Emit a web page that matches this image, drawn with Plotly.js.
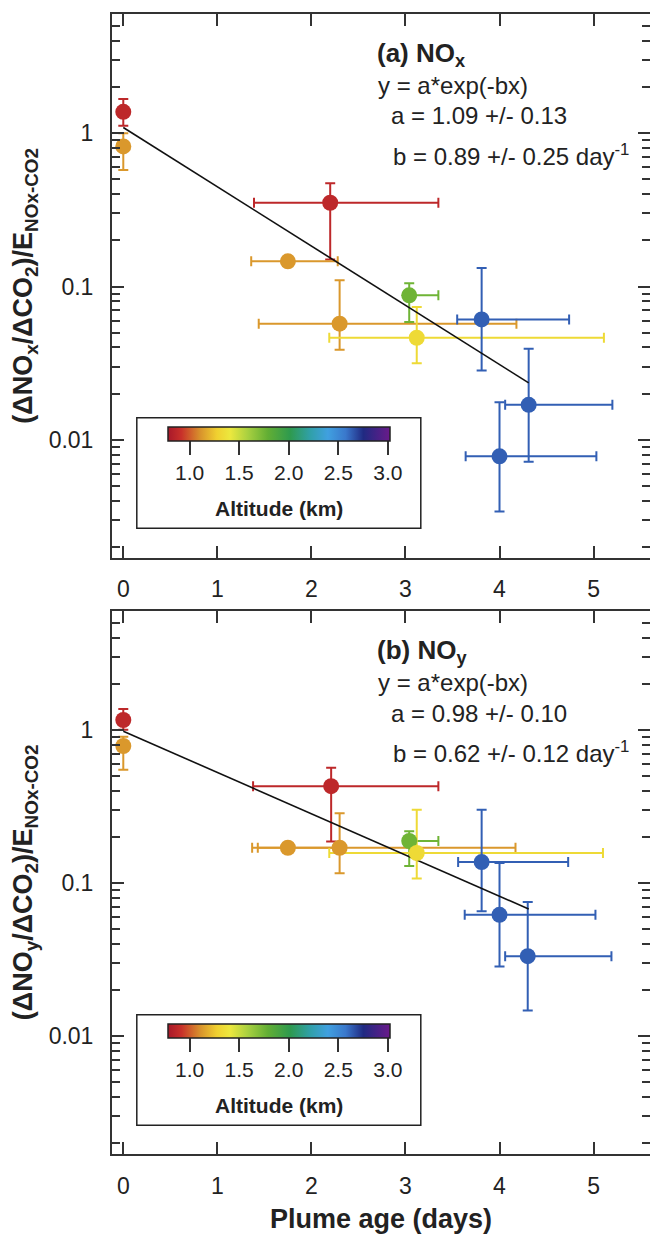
<!DOCTYPE html>
<html>
<head>
<meta charset="utf-8">
<script src="https://cdn.plot.ly/plotly-3.0.1.min.js"></script>
<style>html,body{margin:0;padding:0;background:#fff;}#chart{width:650px;height:1235px;}</style>
</head>
<body>
<div id="chart"></div>
<script>
// ---------- DATA ----------
// Panel (a) NOx
const ageA      = [0,    0,     2.20,  1.75,   2.30,   3.04,   3.12,   3.81,   4.31,   4.00];
const ageLoA    = [0,    0,     1.39,  1.36,   1.44,   2.99,   2.19,   3.55,   4.06,   3.64];
const ageHiA    = [0,    0,     3.35,  2.28,   4.18,   3.35,   5.11,   4.74,   5.20,   5.03];
const ratioA    = [1.38, 0.82,  0.352, 0.146,  0.0572, 0.0876, 0.0463, 0.061,  0.0169, 0.0078];
const ratioLoA  = [1.12, 0.575, 0.150, 0.146,  0.0387, 0.0586, 0.0316, 0.0283, 0.0072, 0.0034];
const ratioHiA  = [1.67, 1.00,  0.471, 0.146,  0.110,  0.105,  0.0734, 0.132,  0.0392, 0.0176];
const altA      = [0.87, 1.12,  0.87,  1.12,   1.12,   1.75,   1.33,   2.63,   2.63,   2.63];
const fitAgeA   = [0, 4.31];
const fitA      = [1.09, 0.0235];

// Panel (b) NOy
const ageB      = [0,     0,     2.21,  1.75,  2.30,   3.04,  3.12,   3.81,   4.30,   4.00];
const ageLoB    = [0,     0,     1.38,  1.37,  1.43,   2.99,  2.19,   3.56,   4.06,   3.63];
const ageHiB    = [0,     0,     3.35,  2.28,  4.17,   3.35,  5.10,   4.73,   5.19,   5.02];
const ratioB    = [1.16,  0.785, 0.429, 0.170, 0.170,  0.188, 0.157,  0.137,  0.0333, 0.062];
const ratioLoB  = [1.00,  0.549, 0.187, 0.170, 0.116,  0.129, 0.107,  0.0653, 0.0147, 0.0285];
const ratioHiB  = [1.37,  0.90,  0.566, 0.170, 0.285,  0.218, 0.301,  0.301,  0.0752, 0.135];
const altB      = [0.87,  1.12,  0.87,  1.12,  1.12,   1.75,  1.33,   2.63,   2.63,   2.63];
const fitAgeB   = [0, 4.31];
const fitB      = [0.98, 0.0677];

const altTicks  = [1.0, 1.5, 2.0, 2.5, 3.0];
const altTickText = ['1.0', '1.5', '2.0', '2.5', '3.0'];
const yTickVals = [0.01, 0.1, 1];
const yTickText = ['0.01', '0.1', '1'];
const xTickVals = [0, 1, 2, 3, 4, 5];

// ---------- STYLE ----------
const FONT = 'Liberation Sans, Arial, Helvetica, sans-serif';
const INK = '#222';
const CMIN = 0.78, CMAX = 3.02;
const cscale = [
  [0.00, '#a8182a'], [0.06, '#c8302a'], [0.145, '#d8922c'], [0.22, '#f0d030'],
  [0.28, '#ece83e'], [0.36, '#a8d040'], [0.45, '#62ae34'], [0.55, '#2e9a4e'],
  [0.64, '#30a0a8'], [0.72, '#40a0e0'], [0.80, '#3a78cc'], [0.88, '#202a82'],
  [1.00, '#6a1a8a']
];
function hex2rgb(h){return [parseInt(h.substr(1,2),16),parseInt(h.substr(3,2),16),parseInt(h.substr(5,2),16)];}
function colorOf(alt){
  let t = (alt - CMIN) / (CMAX - CMIN); t = Math.max(0, Math.min(1, t));
  for (let i = 1; i < cscale.length; i++) {
    if (t <= cscale[i][0]) {
      const a = cscale[i-1], b = cscale[i];
      const f = (t - a[0]) / (b[0] - a[0]);
      const ca = hex2rgb(a[1]), cb = hex2rgb(b[1]);
      return 'rgb(' + ca.map((v,k)=>Math.round(v + (cb[k]-v)*f)).join(',') + ')';
    }
  }
  return cscale[cscale.length-1][1];
}

// pixel -> paper helpers (layout only)
const ML = 112, MR = 0, MT = 14, MB = 81, W = 650, H = 1235;
const PW = W - ML - MR, PH = H - MT - MB;
const px = x => (x - ML) / PW;
const py = y => (H - MB - y) / PH;
const OFF = 597; // vertical offset between panels

function minorVals(){
  const v = [];
  [0.001, 0.01, 0.1, 1].forEach(d => { for (let k = 2; k <= 9; k++) v.push(d*k); });
  return v;
}

const traces = [];
function panel(age, ageLo, ageHi, ratio, lo, hi, alt, fitX, fitY, xa, ya, cbTop){
  for (let i = 0; i < age.length; i++) {
    const c = colorOf(alt[i]);
    const hasX = ageHi[i] > ageLo[i];
    const hasY = hi[i] > lo[i];
    traces.push({
      x: [age[i]], y: [ratio[i]], xaxis: xa, yaxis: ya, type: 'scatter', mode: 'markers',
      marker: {size: 1, opacity: 0}, showlegend: false, hoverinfo: 'skip',
      error_x: {type: 'data', symmetric: false, visible: hasX,
                array: [ageHi[i] - age[i]], arrayminus: [age[i] - ageLo[i]],
                color: c, thickness: 2, width: 5},
      error_y: {type: 'data', symmetric: false, visible: hasY,
                array: [hi[i] - ratio[i]], arrayminus: [ratio[i] - lo[i]],
                color: c, thickness: 2, width: 5}
    });
  }
  traces.push({x: fitX, y: fitY, xaxis: xa, yaxis: ya, type: 'scatter', mode: 'lines',
               line: {color: '#111', width: 1.6}, showlegend: false, hoverinfo: 'skip'});
  traces.push({
    x: age, y: ratio, xaxis: xa, yaxis: ya, type: 'scatter', mode: 'markers', showlegend: false,
    marker: {size: 16, color: alt, colorscale: cscale, cmin: CMIN, cmax: CMAX, showscale: true,
      line: {width: 0},
      colorbar: {orientation: 'h', x: px(278.8), xanchor: 'center', y: py(cbTop), yanchor: 'top',
        yref: 'paper', xref: 'paper',
        len: 222, lenmode: 'pixels', thickness: 14, thicknessmode: 'pixels',
        xpad: 0, ypad: 0, outlinewidth: 1.5, outlinecolor: '#222',
        ticks: 'outside', ticklen: 14, tickwidth: 2, tickcolor: '#333',
        tickmode: 'array', tickvals: altTicks, ticktext: altTickText,
        tickfont: {family: FONT, size: 21, color: INK},
        title: {text: ''}
      }}
  });
}

panel(ageA, ageLoA, ageHiA, ratioA, ratioLoA, ratioHiA, altA, fitAgeA, fitA, 'x2', 'y2', 426.7);
panel(ageB, ageLoB, ageHiB, ratioB, ratioLoB, ratioHiB, altB, fitAgeB, fitB, 'x', 'y', 426.7 + OFF);

const yRange = [Math.log10(0.0017), Math.log10(6)];
function xAxis(anchor, withTitle){
  const a = {
    anchor: anchor, domain: [0, 1], range: [-0.12, 5.6], tickmode: 'array', tickvals: xTickVals,
    ticks: 'inside', ticklen: 12, tickwidth: 2, tickcolor: '#333',
    showline: true, linewidth: 2, linecolor: '#333', mirror: 'allticks',
    showgrid: false, zeroline: false, ticklabelstandoff: 10,
    tickfont: {family: FONT, size: 23, color: INK}
  };
  if (withTitle) a.title = {text: '<b>Plume age (days)</b>', font: {family: FONT, size: 27, color: INK}, standoff: 12};
  return a;
}
function yAxis(anchor, domain, sub){
  return {
    anchor: anchor, domain: domain, type: 'log', range: yRange,
    tickmode: 'array', tickvals: yTickVals, ticktext: yTickText,
    ticks: 'inside', ticklen: 12, tickwidth: 2, tickcolor: '#333',
    minor: {tickmode: 'array', tickvals: minorVals(), ticks: 'inside', ticklen: 8, tickwidth: 2, tickcolor: '#333', showgrid: false},
    showline: true, linewidth: 2, linecolor: '#333', mirror: 'allticks',
    showgrid: false, zeroline: false, ticklabelstandoff: 12,
    tickfont: {family: FONT, size: 23, color: INK},
    title: {text: '<b>(ΔNO<sub>' + sub + '</sub>/ΔCO<sub>2</sub>)/E<sub>NOx-CO2</sub></b>',
            font: {family: FONT, size: 27, color: INK}, standoff: 8}
  };
}

function ann(text, xPix, yPix, size, bold, anchor){
  return {xref: 'paper', yref: 'paper', x: px(xPix), y: py(yPix), xanchor: anchor || 'left', yanchor: 'middle',
          text: bold ? '<b>' + text + '</b>' : text, showarrow: false,
          font: {family: FONT, size: size, color: INK}};
}

const annotations = [
  ann('(a) NO<sub>x</sub>', 375, 54, 26, true),
  ann('y = a*exp(-bx)', 376, 86, 24, false),
  ann('a = 1.09 +/- 0.13', 389, 116, 24, false),
  ann('b = 0.89 +/- 0.25 day<sup>-1</sup>', 391, 155, 24, false),
  ann('Altitude (km)', 278.6, 508, 21, true, 'center'),
  ann('(b) NO<sub>y</sub>', 375, 54 + OFF, 26, true),
  ann('y = a*exp(-bx)', 376, 86 + OFF, 24, false),
  ann('a = 0.98 +/- 0.10', 389, 116 + OFF, 24, false),
  ann('b = 0.62 +/- 0.12 day<sup>-1</sup>', 391, 155 + OFF, 24, false),
  ann('Altitude (km)', 278.6, 508 + OFF, 21, true, 'center')
];

const boxStyle = {type: 'rect', xref: 'paper', yref: 'paper', line: {color: '#222', width: 1.5}, fillcolor: 'rgba(255,255,255,0)', layer: 'above'};
const shapes = [
  Object.assign({}, boxStyle, {x0: px(136.8), x1: px(420.8), y0: py(528.3), y1: py(417.7)}),
  Object.assign({}, boxStyle, {x0: px(136.8), x1: px(420.8), y0: py(528.3 + OFF), y1: py(417.7 + OFF)})
];

const layout = {
  width: W, height: H,
  margin: {l: ML, r: MR, t: MT, b: MB, pad: 0},
  paper_bgcolor: '#fff', plot_bgcolor: '#fff',
  font: {family: FONT, color: INK},
  showlegend: false,
  xaxis: xAxis('y', true),
  yaxis: yAxis('x', [0, py(610.7)], 'y'),
  xaxis2: xAxis('y2', false),
  yaxis2: yAxis('x2', [py(557.7), 1], 'x'),
  annotations: annotations,
  shapes: shapes
};

Plotly.newPlot('chart', traces, layout, {displayModeBar: false, staticPlot: true});
</script>
</body>
</html>
